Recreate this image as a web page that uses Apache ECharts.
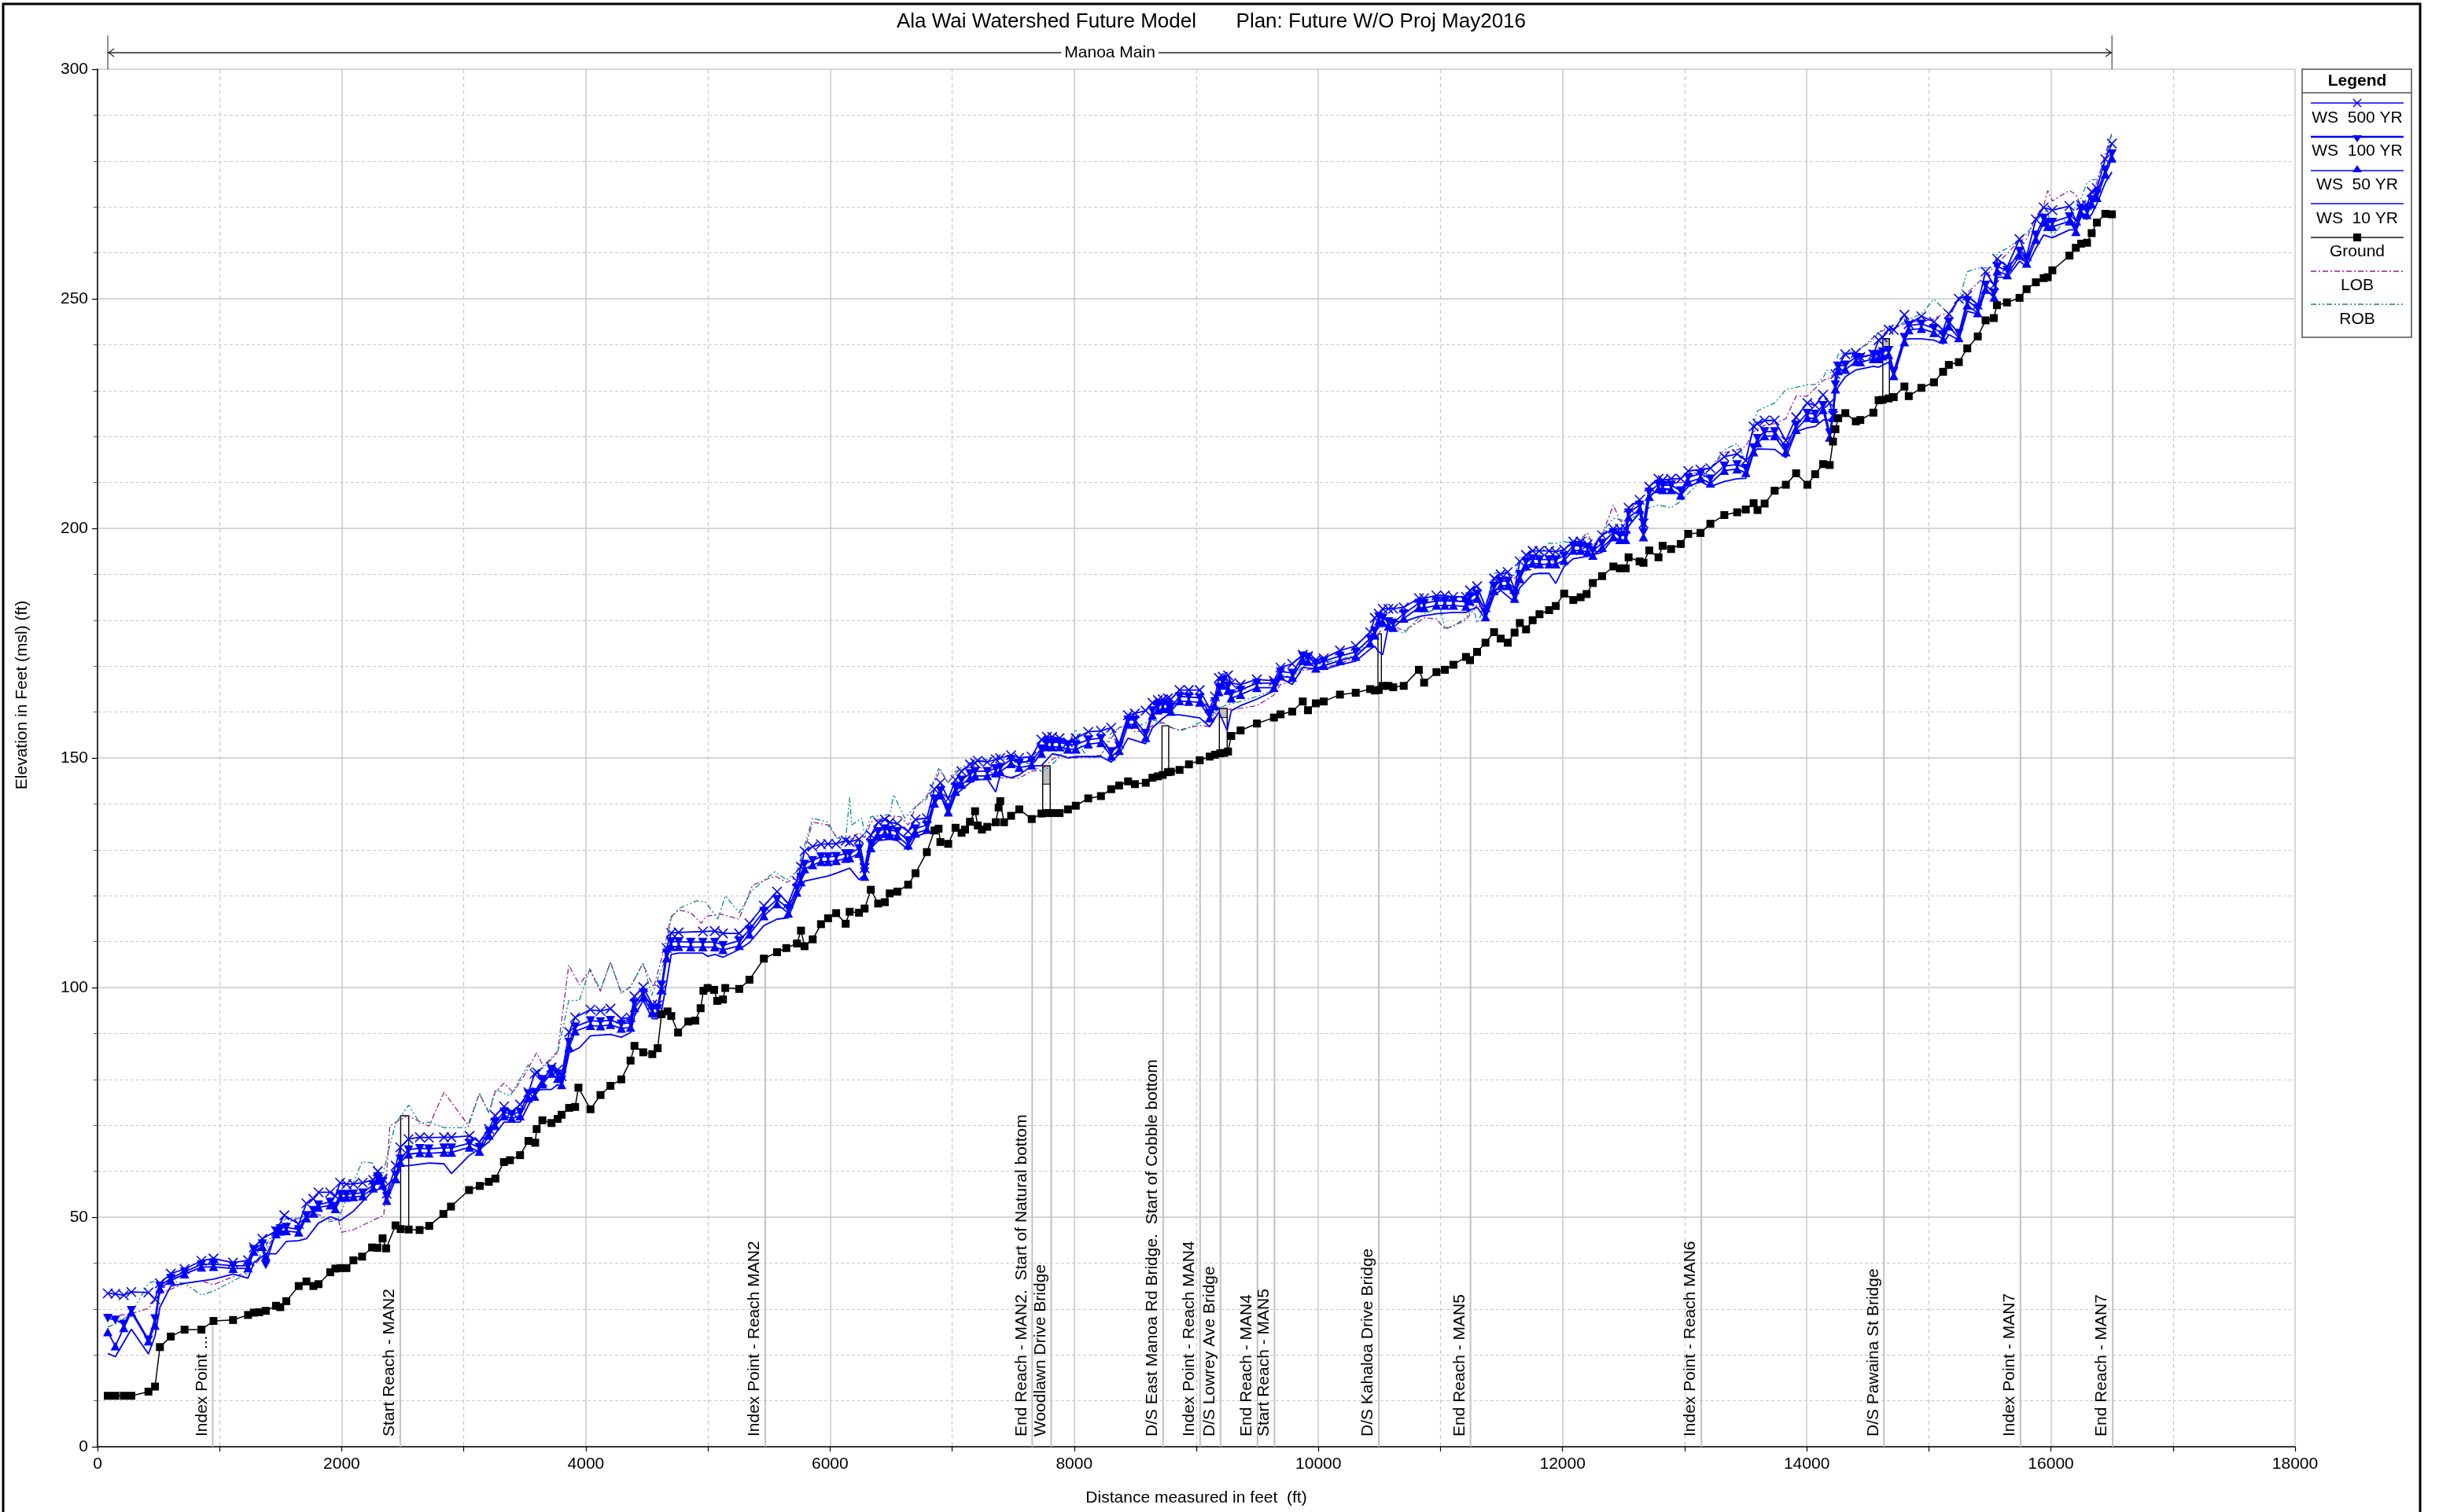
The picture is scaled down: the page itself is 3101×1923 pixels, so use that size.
<!DOCTYPE html>
<html>
<head>
<meta charset="utf-8">
<title>Ala Wai Watershed Future Model - Manoa Main profile</title>
<script src="https://cdn.jsdelivr.net/npm/echarts@6/dist/echarts.min.js"></script>
<style>
  html, body { margin: 0; padding: 0; background: #ffffff; }
  #chart { width: 3101px; height: 1923px; }
</style>
</head>
<body>
<div id="chart"></div>
<script>
// ---------------------------------------------------------------
// Profile data: [distance (ft), elevation (ft msl)]
// ---------------------------------------------------------------
const ground = [[84,11.1],[146,11.1],[215,11.1],[277,11.1],[417,12.0],[471,13.1],[511,21.7],[600,24.0],[713,25.5],[851,25.5],
[950,27.4],[1110,27.6],[1233,28.7],[1280,29.2],[1324,29.3],[1378,29.6],[1462,30.7],[1497,30.4],[1546,31.7],[1648,35.0],
[1711,36.0],[1768,35.0],[1810,35.4],[1906,38.0],[1948,38.8],[1990,38.9],[2039,38.9],[2096,40.6],[2167,41.4],[2249,43.4],
[2293,43.3],[2335,45.4],[2364,43.2],[2441,48.2],[2483,47.4],[2549,47.3],[2638,47.2],[2717,48.1],[2833,50.7],[2895,52.3],
[3043,55.9],[3131,56.8],[3205,57.7],[3259,58.4],[3329,62.0],[3378,62.4],[3461,63.5],[3530,66.6],[3585,66.2],[3597,69.2],
[3644,71.1],[3718,70.5],[3769,71.4],[3801,72.3],[3863,73.8],[3912,74.0],[3939,78.2],[4038,73.5],[4120,76.6],[4201,78.6],
[4290,80.0],[4366,84.1],[4398,87.3],[4470,85.9],[4544,85.5],[4588,86.8],[4620,94.2],[4669,94.8],[4699,93.8],[4755,90.2],
[4839,92.6],[4896,92.8],[4940,95.5],[4963,99.3],[4997,99.9],[5051,99.5],[5076,97.1],[5123,97.4],[5142,99.9],[5256,99.7],
[5340,101.7],[5458,106.3],[5566,107.7],[5642,108.6],[5729,109.6],[5762,112.4],[5791,109.0],[5858,110.5],[5926,113.8],[5984,115.1],
[6050,116.2],[6128,113.9],[6161,116.5],[6237,116.3],[6283,117.2],[6334,121.3],[6394,118.3],[6449,118.6],[6489,120.5],[6552,120.9],
[6640,122.4],[6700,124.9],[6793,129.5],[6855,134.2],[6889,134.6],[6904,131.7],[6968,131.3],[7028,134.8],[7077,133.7],[7106,134.4],
[7146,136.1],[7188,138.4],[7210,135.3],[7244,134.4],[7288,135.0],[7357,136.0],[7381,139.2],[7394,140.6],[7425,136.0],[7483,137.4],
[7550,138.8],[7652,136.7],[7732,137.9],[7776,138.0],[7820,138.0],[7880,138.0],[7949,138.8],[8013,139.6],[8115,141.2],[8219,141.7],
[8303,143.2],[8368,144.0],[8441,144.9],[8497,144.3],[8586,144.6],[8641,145.7],[8685,146.0],[8725,146.3],[8768,146.9],[8792,147.0],
[8863,147.4],[8940,148.6],[9028,149.5],[9110,150.3],[9153,150.7],[9196,151.0],[9228,151.1],[9260,151.4],[9286,154.8],[9363,156.0],
[9496,157.5],[9636,158.8],[9690,159.5],[9786,160.1],[9872,162.3],[9915,160.4],[9979,161.9],[10044,162.3],[10177,163.8],[10306,164.2],
[10424,165.0],[10462,164.7],[10495,164.8],[10527,165.7],[10574,165.7],[10613,165.4],[10699,165.7],[10823,169.2],[10866,166.4],[10967,168.7],
[11036,169.2],[11106,170.3],[11209,172.0],[11242,171.3],[11300,173.1],[11369,175.1],[11439,177.4],[11493,176.0],[11551,175.1],[11607,177.3],
[11650,179.4],[11701,178.0],[11755,180.0],[11811,181.3],[11890,182.2],[11944,183.1],[12013,185.8],[12088,184.4],[12148,185.0],[12197,185.7],
[12248,188.1],[12324,189.6],[12416,191.7],[12470,191.3],[12517,191.3],[12541,193.7],[12631,192.8],[12663,192.5],[12710,195.2],[12786,193.7],
[12820,196.2],[12889,195.5],[12968,196.6],[13029,198.8],[13130,199.0],[13211,201.0],[13325,202.9],[13430,203.5],[13501,204.1],[13565,205.5],
[13597,204.0],[13655,205.4],[13737,208.2],[13829,209.5],[13913,212.0],[14005,209.5],[14069,211.8],[14134,214.0],[14188,213.8],[14215,218.9],
[14235,221.6],[14258,224.0],[14316,225.1],[14402,223.3],[14439,223.6],[14546,225.2],[14589,227.9],[14621,228.0],[14671,228.3],[14713,228.6],
[14800,230.9],[14836,228.8],[14939,230.6],[15042,231.8],[15117,234.1],[15164,235.6],[15246,236.2],[15315,239.2],[15401,241.8],[15465,245.3],
[15532,245.8],[15558,248.6],[15640,249.2],[15743,250.2],[15801,252.1],[15877,253.6],[15941,254.5],[15974,254.7],[16012,256.2],[16152,259.4],
[16204,261.1],[16248,262.0],[16296,262.2],[16334,264.3],[16377,266.6],[16446,268.5],[16500,268.4]];

const ws500 = [[84,33.4],[146,33.3],[215,33.0],[277,33.7],[417,33.6],[471,32.1],[511,35.6],[600,37.7],[713,38.7],[851,40.5],
[950,41.0],[1110,40.1],[1233,40.6],[1280,43.4],[1350,45.3],[1462,47.0],[1530,50.4],[1648,48.5],[1711,53.0],[1768,54.0],
[1810,55.4],[1906,55.4],[1948,54.6],[1987,57.5],[2039,57.2],[2096,57.2],[2172,57.5],[2258,58.1],[2295,60.0],[2335,58.4],
[2369,55.1],[2443,61.2],[2480,65.2],[2547,67.0],[2640,67.4],[2714,67.3],[2838,67.4],[2899,67.4],[3047,67.7],[3128,66.4],
[3207,69.2],[3257,72.1],[3330,74.1],[3392,72.9],[3461,74.5],[3530,77.2],[3580,81.2],[3602,81.5],[3644,79.5],[3718,82.6],
[3769,82.1],[3801,80.7],[3863,90.3],[3912,93.5],[4038,95.2],[4120,94.9],[4201,95.4],[4290,93.2],[4366,93.5],[4398,98.1],
[4470,100.1],[4544,96.3],[4588,96.2],[4620,99.5],[4662,108.6],[4699,111.9],[4760,112.0],[4958,112.2],[5056,112.3],[5123,111.8],
[5256,111.8],[5340,114.0],[5458,117.8],[5566,120.9],[5658,118.3],[5728,123.2],[5762,126.3],[5791,129.7],[5857,130.7],[5926,131.2],
[5984,131.3],[6050,131.3],[6128,132.0],[6161,131.7],[6237,132.3],[6283,126.0],[6334,133.2],[6394,136.0],[6449,136.6],[6489,136.0],
[6551,135.7],[6640,134.0],[6700,136.6],[6793,136.9],[6855,143.2],[6904,144.6],[6968,141.1],[7028,145.2],[7077,147.1],[7146,148.6],
[7188,148.9],[7210,149.4],[7288,149.1],[7357,149.7],[7394,150.0],[7483,150.6],[7549,150.0],[7651,150.3],[7731,154.0],[7776,154.6],
[7820,154.6],[7880,154.3],[7949,153.4],[8013,154.3],[8115,155.7],[8219,155.9],[8303,156.6],[8368,153.1],[8441,159.3],[8497,159.7],
[8585,160.3],[8641,162.0],[8685,162.6],[8725,162.8],[8767,163.0],[8792,162.8],[8863,164.8],[8938,164.8],[9028,164.8],[9110,160.8],
[9153,163.4],[9185,167.4],[9217,167.7],[9260,168.0],[9286,166.3],[9363,166.0],[9496,167.1],[9636,166.8],[9690,169.7],[9786,170.5],
[9872,172.5],[9915,172.2],[9979,171.4],[10044,171.7],[10177,173.4],[10306,174.4],[10424,177.4],[10462,180.5],[10495,181.4],[10527,182.5],
[10574,182.5],[10613,182.5],[10699,182.8],[10823,184.8],[10866,184.8],[10967,185.4],[11036,185.4],[11106,185.1],[11209,185.1],[11242,186.5],
[11300,187.4],[11369,182.8],[11439,189.1],[11493,190.0],[11551,190.5],[11607,186.8],[11650,192.8],[11701,194.2],[11755,195.1],[11811,195.1],
[11890,195.1],[11944,194.9],[12013,195.4],[12088,197.1],[12148,197.1],[12205,196.5],[12248,195.7],[12324,198.5],[12416,199.9],[12470,199.9],
[12517,199.9],[12541,204.5],[12631,206.2],[12663,201.1],[12710,209.1],[12786,210.8],[12820,210.5],[12889,210.8],[12968,210.8],[13029,212.5],
[13130,212.8],[13211,213.1],[13325,215.6],[13430,216.2],[13501,214.8],[13565,222.2],[13597,222.8],[13655,223.5],[13737,223.5],[13829,219.1],
[13913,224.2],[14005,227.3],[14069,226.8],[14134,229.1],[14188,227.3],[14215,224.5],[14235,233.6],[14258,235.3],[14316,237.9],[14402,238.2],
[14439,237.3],[14546,237.9],[14589,241.0],[14621,241.6],[14671,243.3],[14713,243.2],[14800,246.5],[14836,244.5],[14939,246.2],[15042,245.0],
[15117,243.2],[15164,246.7],[15246,250.0],[15315,250.7],[15400,248.7],[15465,255.9],[15535,253.0],[15561,258.7],[15643,257.0],[15743,263.0],
[15801,259.3],[15877,267.3],[15941,269.9],[16012,269.3],[16152,270.2],[16205,267.0],[16248,270.4],[16295,270.4],[16334,273.3],[16377,274.1],
[16446,280.4],[16500,283.8]];

const ws100 = [[84,28.0],[146,27.6],[215,26.7],[277,29.7],[417,23.3],[471,27.9],[511,35.0],[600,36.7],[713,38.1],[851,39.7],
[950,39.8],[1110,39.4],[1233,39.4],[1280,43.0],[1350,44.2],[1378,39.6],[1462,47.0],[1497,47.5],[1546,47.8],[1648,47.3],
[1711,50.4],[1768,51.5],[1810,52.7],[1906,53.3],[1948,52.4],[1990,55.0],[2039,55.0],[2096,55.1],[2172,55.3],[2258,57.0],
[2295,58.8],[2335,57.8],[2369,54.5],[2443,59.2],[2480,62.7],[2547,64.7],[2640,65.0],[2714,64.9],[2838,65.1],[2899,65.1],
[3047,66.1],[3128,65.2],[3207,68.7],[3257,70.7],[3330,72.9],[3392,72.4],[3461,72.9],[3530,76.9],[3580,77.2],[3644,80.0],
[3718,82.2],[3769,81.2],[3801,79.8],[3863,88.1],[3912,91.5],[4038,92.8],[4120,92.6],[4201,92.9],[4290,92.1],[4366,92.3],
[4398,96.6],[4470,98.9],[4544,95.5],[4588,95.4],[4620,100.6],[4662,107.5],[4699,110.0],[4760,110.0],[4859,109.9],[4958,109.9],
[5056,109.9],[5123,109.2],[5256,110.2],[5340,112.6],[5458,116.6],[5566,119.2],[5658,117.2],[5728,121.7],[5762,124.0],[5791,126.9],
[5857,127.7],[5926,128.5],[5984,128.5],[6050,128.6],[6128,129.2],[6161,129.2],[6237,130.3],[6283,125.2],[6334,131.4],[6394,134.0],
[6449,134.6],[6489,134.3],[6551,134.0],[6640,132.0],[6700,134.6],[6793,135.4],[6855,141.1],[6904,142.9],[6968,139.2],[7028,143.7],
[7077,145.2],[7146,146.6],[7188,147.1],[7288,147.1],[7357,147.7],[7394,148.0],[7483,149.7],[7549,148.9],[7651,149.4],[7731,152.0],
[7776,153.4],[7820,153.4],[7880,153.4],[7949,152.9],[8013,152.9],[8115,154.0],[8219,154.3],[8303,151.4],[8368,152.6],[8441,158.3],
[8497,158.3],[8585,155.4],[8641,160.3],[8685,161.4],[8725,161.7],[8767,161.7],[8792,161.1],[8863,163.4],[8938,163.3],[9028,163.1],
[9110,159.7],[9153,162.3],[9185,165.4],[9217,166.8],[9260,165.7],[9286,164.0],[9363,164.8],[9496,166.3],[9636,166.3],[9690,168.8],
[9786,168.5],[9872,172.2],[9915,172.0],[9979,170.5],[10044,171.1],[10177,172.2],[10306,173.1],[10424,176.0],[10462,177.7],[10495,180.8],
[10527,180.5],[10574,179.7],[10613,179.4],[10699,181.4],[10823,183.7],[10866,183.7],[10967,184.2],[11036,184.2],[11106,184.2],[11209,184.0],
[11242,185.1],[11300,185.7],[11369,181.7],[11439,187.4],[11493,188.5],[11551,188.5],[11607,185.7],[11650,190.0],[11701,192.8],[11755,193.4],
[11811,193.2],[11890,193.2],[11944,193.2],[12013,194.0],[12088,196.2],[12148,196.2],[12205,195.9],[12248,195.1],[12324,196.8],[12416,199.1],
[12470,198.5],[12517,198.5],[12541,203.4],[12631,205.1],[12663,199.1],[12710,207.9],[12786,209.6],[12820,209.4],[12889,209.4],[12968,208.2],
[13029,211.1],[13130,211.9],[13211,210.8],[13325,213.6],[13430,213.9],[13501,213.1],[13565,217.6],[13597,219.6],[13655,221.1],[13737,221.1],
[13829,217.6],[13913,222.5],[14005,225.1],[14069,224.9],[14134,226.8],[14188,220.8],[14215,225.1],[14235,231.3],[14258,235.3],[14316,235.6],
[14402,237.3],[14439,237.2],[14546,237.9],[14589,237.9],[14621,238.5],[14671,238.8],[14713,234.2],[14800,241.6],[14836,244.2],[14939,244.5],
[15042,243.6],[15117,242.2],[15164,245.0],[15246,242.5],[15315,249.6],[15400,247.9],[15465,253.0],[15535,251.3],[15561,257.0],[15643,256.2],
[15743,260.4],[15801,258.7],[15877,263.9],[15941,267.6],[15974,266.7],[16012,266.7],[16152,267.9],[16205,265.6],[16248,269.6],[16295,269.3],
[16334,271.6],[16377,273.0],[16446,278.1],[16500,281.6]];

const ws50 = [[84,25.0],[146,21.9],[215,25.9],[277,29.3],[417,23.0],[471,26.4],[511,34.4],[600,36.2],[713,37.6],[851,39.1],
[950,39.2],[1110,38.8],[1233,38.9],[1280,42.5],[1350,43.6],[1378,41.5],[1462,46.3],[1497,46.9],[1546,47.0],[1648,46.7],
[1711,49.8],[1768,50.8],[1810,52.1],[1906,52.6],[1948,51.8],[1990,54.3],[2039,54.3],[2096,54.4],[2172,54.6],[2258,56.3],
[2295,58.0],[2335,57.0],[2369,53.6],[2443,58.3],[2480,61.9],[2547,63.7],[2640,64.0],[2714,63.9],[2838,64.1],[2899,64.1],
[3047,65.2],[3128,64.3],[3207,67.8],[3257,69.9],[3330,72.0],[3392,71.5],[3461,72.0],[3530,75.9],[3580,76.3],[3644,79.0],
[3718,81.3],[3769,80.2],[3801,78.8],[3863,87.0],[3912,90.5],[4038,91.7],[4120,91.6],[4201,91.9],[4290,91.1],[4366,91.3],
[4398,95.6],[4470,97.9],[4544,94.5],[4588,94.4],[4620,99.5],[4662,106.4],[4699,108.9],[4760,108.9],[4859,108.8],[4958,108.8],
[5056,108.8],[5123,108.2],[5256,109.1],[5340,111.6],[5458,115.6],[5566,118.2],[5658,116.2],[5728,120.7],[5762,123.0],[5791,125.8],
[5857,126.7],[5926,127.4],[5984,127.4],[6050,127.6],[6128,128.1],[6161,128.2],[6237,129.2],[6283,124.2],[6334,130.4],[6394,133.0],
[6449,133.5],[6489,133.3],[6551,133.0],[6640,131.0],[6700,133.6],[6793,134.4],[6855,140.1],[6904,141.9],[6968,138.2],[7028,142.7],
[7077,144.2],[7146,145.6],[7188,146.1],[7288,146.1],[7357,146.7],[7394,147.0],[7483,148.7],[7549,147.9],[7651,148.4],[7731,151.0],
[7776,152.4],[7820,152.4],[7880,152.4],[7949,151.9],[8013,151.9],[8115,153.0],[8219,153.3],[8303,150.4],[8368,151.6],[8441,157.3],
[8497,157.3],[8585,154.4],[8641,159.3],[8685,160.4],[8725,160.7],[8767,160.7],[8792,160.1],[8863,162.4],[8938,162.3],[9028,162.1],
[9110,158.7],[9153,161.3],[9185,164.4],[9217,165.8],[9260,164.7],[9286,163.0],[9363,163.8],[9496,165.3],[9636,165.3],[9690,167.8],
[9786,167.5],[9872,171.2],[9915,171.0],[9979,169.5],[10044,170.1],[10177,171.2],[10306,172.1],[10424,175.0],[10462,176.7],[10495,179.8],
[10527,179.5],[10574,178.7],[10613,178.4],[10699,180.4],[10823,182.7],[10866,182.7],[10967,183.2],[11036,183.2],[11106,183.2],[11209,183.0],
[11242,184.1],[11300,184.7],[11369,180.7],[11439,186.4],[11493,187.5],[11551,187.5],[11607,184.7],[11650,189.0],[11701,191.8],[11755,192.4],
[11811,192.2],[11890,192.2],[11944,192.2],[12013,193.0],[12088,195.2],[12148,195.2],[12205,194.9],[12248,194.1],[12324,195.8],[12416,198.1],
[12470,197.5],[12517,197.5],[12541,202.4],[12631,204.1],[12663,198.1],[12710,206.9],[12786,208.6],[12820,208.4],[12889,208.4],[12968,207.2],
[13029,210.1],[13130,210.9],[13211,209.8],[13325,212.6],[13430,212.9],[13501,212.1],[13565,216.6],[13597,218.6],[13655,220.1],[13737,220.1],
[13829,216.6],[13913,221.5],[14005,224.1],[14069,223.9],[14134,225.8],[14188,219.8],[14215,224.1],[14235,230.3],[14258,234.3],[14316,234.6],
[14402,236.3],[14439,236.2],[14546,236.9],[14589,236.9],[14621,237.5],[14671,237.8],[14713,233.2],[14800,240.6],[14836,243.2],[14939,243.5],
[15042,242.6],[15117,241.2],[15164,244.0],[15246,241.5],[15315,248.6],[15400,246.9],[15465,252.0],[15535,250.3],[15561,256.0],[15643,255.2],
[15743,259.4],[15801,257.7],[15877,262.9],[15941,266.6],[15974,265.7],[16012,265.7],[16152,266.9],[16205,264.6],[16248,268.6],[16295,268.3],
[16334,270.6],[16377,272.0],[16446,277.1],[16500,280.6]];

const ws10 = [[84,20.3],[146,19.6],[277,25.6],[417,20.2],[471,24.1],[511,30.4],[600,35.0],[713,35.6],[851,36.1],[950,36.5],
[1110,37.6],[1233,36.7],[1280,40.1],[1378,42.0],[1462,42.0],[1546,44.7],[1648,44.9],[1711,45.3],[1810,48.7],[1906,50.1],
[1990,49.3],[2096,51.3],[2258,55.8],[2345,56.3],[2443,58.7],[2480,61.2],[2542,61.2],[2717,61.8],[2838,61.6],[2899,59.5],
[3047,63.5],[3128,64.8],[3207,66.4],[3330,70.7],[3461,70.7],[3530,74.4],[3602,77.5],[3644,77.8],[3718,77.8],[3769,78.9],
[3801,78.0],[3863,85.8],[3947,86.9],[4038,89.5],[4201,89.8],[4290,89.2],[4366,90.2],[4398,93.8],[4470,97.2],[4544,93.2],
[4588,93.2],[4620,94.9],[4662,101.2],[4699,107.2],[4760,107.5],[4958,107.5],[4997,106.8],[5056,107.2],[5123,106.6],[5256,108.3],
[5340,109.8],[5458,113.5],[5566,114.9],[5658,115.2],[5728,120.0],[5791,123.2],[5984,124.3],[6050,124.9],[6161,126.0],[6237,123.5],
[6283,124.6],[6334,130.3],[6394,132.0],[6489,132.3],[6551,132.0],[6640,130.0],[6700,132.9],[6793,133.7],[6855,140.0],[6904,142.0],
[6968,137.7],[7028,142.0],[7146,144.6],[7188,145.2],[7288,145.4],[7357,142.6],[7394,146.3],[7483,145.7],[7549,146.3],[7651,148.3],
[7731,148.3],[7820,150.9],[7880,150.6],[7949,150.0],[8013,150.3],[8115,150.3],[8219,150.3],[8303,149.1],[8368,150.9],[8441,154.3],
[8585,153.1],[8641,156.6],[8725,158.6],[8767,159.4],[8863,159.4],[9028,158.7],[9110,156.8],[9185,160.0],[9253,156.0],[9286,160.3],
[9363,161.4],[9496,162.8],[9636,164.6],[9690,167.4],[9786,166.0],[9872,169.7],[9979,169.4],[10044,169.3],[10177,170.3],[10306,171.1],
[10424,173.7],[10462,174.3],[10495,173.1],[10527,172.5],[10574,178.8],[10613,179.7],[10699,179.7],[10823,180.8],[10967,181.4],[11106,181.7],
[11209,181.7],[11242,182.2],[11300,182.8],[11369,180.3],[11439,185.4],[11493,186.5],[11607,184.0],[11650,187.1],[11755,190.0],[11811,190.2],
[11890,190.2],[11944,188.0],[12013,191.7],[12088,193.4],[12205,193.9],[12324,194.8],[12416,197.9],[12517,196.8],[12541,200.5],[12631,203.4],
[12663,200.5],[12710,206.8],[12786,208.8],[12889,208.5],[12968,207.1],[13029,209.1],[13130,210.2],[13211,209.1],[13325,210.2],[13430,210.8],
[13501,210.9],[13565,216.5],[13597,217.3],[13737,217.2],[13829,215.4],[13913,221.1],[14005,221.9],[14069,222.2],[14134,223.6],[14212,223.6],
[14235,229.6],[14258,230.8],[14316,233.0],[14402,234.5],[14546,235.3],[14589,235.1],[14671,236.2],[14713,233.0],[14800,241.0],[14836,241.3],
[14939,241.3],[15042,241.0],[15117,240.2],[15164,242.2],[15246,241.0],[15315,247.3],[15400,246.7],[15465,251.9],[15535,250.7],[15561,254.7],
[15643,254.7],[15743,258.2],[15801,257.0],[15877,261.0],[15941,263.9],[16012,263.3],[16152,265.0],[16205,265.0],[16248,267.9],[16295,267.3],
[16334,268.4],[16377,270.7],[16446,275.3],[16500,277.6]];

const lob = [[84,28.2],[277,29.0],[417,30.1],[511,33.3],[713,35.6],[851,36.1],[950,35.3],[1110,37.0],[1233,38.1],[1324,40.7],
[1462,46.4],[1546,48.7],[1648,49.8],[1768,51.0],[1906,49.5],[1975,49.3],[1999,46.7],[2098,47.3],[2271,49.5],[2345,50.4],
[2394,69.8],[2443,70.7],[2542,72.1],[2714,69.8],[2838,77.2],[3035,70.1],[3128,76.9],[3207,72.7],[3257,77.2],[3330,79.2],
[3404,77.2],[3503,81.2],[3597,85.8],[3651,82.9],[3769,86.1],[3860,104.9],[3947,100.6],[4033,103.8],[4119,99.2],[4201,105.5],
[4292,98.9],[4366,100.1],[4465,105.2],[4556,100.1],[4637,108.0],[4699,115.5],[4760,116.9],[4859,116.3],[4945,114.0],[4982,115.5],
[5106,116.0],[5254,114.9],[5365,122.3],[5476,123.5],[5550,124.3],[5644,122.9],[5728,124.0],[5857,136.0],[5984,135.4],[6050,132.9],
[6161,132.3],[6237,133.7],[6283,132.6],[6334,136.0],[6489,137.4],[6578,137.2],[6640,135.4],[6700,139.2],[6793,141.7],[6904,147.4],
[6968,144.6],[7028,147.1],[7188,148.3],[7288,147.4],[7394,145.7],[7483,145.6],[7549,145.6],[7651,147.1],[7731,147.4],[7820,149.7],
[7880,150.6],[7949,150.2],[8013,150.0],[8115,150.3],[8219,150.6],[8303,154.3],[8368,156.6],[8441,157.1],[8497,155.7],[8585,155.9],
[8641,157.1],[8725,157.7],[8792,156.6],[8863,156.1],[8940,156.6],[9028,157.1],[9110,156.8],[9185,161.1],[9260,160.6],[9363,160.8],
[9496,161.4],[9636,163.7],[9690,166.0],[9786,166.8],[9872,169.1],[9979,169.4],[10177,170.5],[10306,172.0],[10424,175.4],[10495,177.1],
[10527,178.5],[10613,178.8],[10699,177.7],[10823,179.7],[10866,180.5],[10967,180.3],[11036,178.0],[11106,178.8],[11209,180.0],[11300,183.4],
[11369,181.7],[11439,188.0],[11493,189.7],[11607,189.1],[11650,190.5],[11755,191.1],[11890,192.5],[11944,193.0],[12013,195.4],[12088,197.1],
[12158,197.9],[12205,199.1],[12248,196.2],[12324,198.5],[12416,205.1],[12470,201.7],[12517,201.1],[12541,203.6],[12631,206.2],[12710,208.2],
[12786,209.4],[12889,210.8],[12968,209.9],[13029,210.8],[13130,213.1],[13211,213.1],[13325,216.5],[13430,217.1],[13501,217.9],[13565,221.1],
[13655,222.5],[13737,222.8],[13829,223.9],[13913,228.8],[14005,228.8],[14069,230.5],[14134,232.2],[14188,232.8],[14235,233.9],[14258,236.5],
[14316,238.2],[14402,238.2],[14546,241.6],[14589,242.8],[14671,243.3],[14713,243.6],[14800,244.5],[14836,245.0],[14939,245.0],[15042,245.6],
[15117,246.7],[15175,246.2],[15246,250.2],[15315,251.3],[15465,255.0],[15561,257.6],[15643,259.9],[15743,262.7],[15801,263.0],[15877,267.9],
[15941,270.2],[15974,273.6],[16012,271.3],[16152,273.6],[16205,272.7],[16248,270.2],[16295,270.7],[16334,273.0],[16377,275.3],[16446,281.6],
[16500,286.1]];

const rob = [[84,26.1],[146,26.7],[277,29.0],[417,35.6],[471,36.1],[511,35.6],[600,36.1],[713,35.6],[851,33.0],[950,33.9],
[1110,36.1],[1233,37.8],[1324,41.3],[1462,47.5],[1546,49.8],[1648,49.8],[1768,50.7],[1906,49.0],[1968,49.5],[2039,53.8],
[2167,62.1],[2249,61.8],[2293,60.1],[2335,59.0],[2364,62.4],[2441,70.4],[2549,74.4],[2641,70.4],[2714,70.7],[2838,69.5],
[3035,69.5],[3128,76.9],[3207,72.7],[3257,77.8],[3380,76.4],[3528,83.2],[3602,81.2],[3769,85.8],[3860,97.2],[3947,97.2],
[4033,104.1],[4119,99.5],[4201,105.5],[4292,98.6],[4366,100.3],[4470,105.2],[4539,98.3],[4637,105.2],[4699,115.2],[4760,117.2],
[4908,118.9],[4982,118.6],[5081,114.9],[5143,120.0],[5254,116.3],[5365,121.2],[5476,123.7],[5550,125.2],[5644,123.5],[5728,125.2],
[5857,136.9],[5984,136.0],[6050,132.6],[6128,132.3],[6161,141.4],[6177,135.4],[6261,136.9],[6283,133.2],[6334,137.2],[6489,137.7],
[6522,142.0],[6611,136.9],[6700,139.4],[6793,141.1],[6889,147.7],[6968,144.6],[7077,148.0],[7146,148.9],[7288,149.7],[7357,150.6],
[7394,149.7],[7483,149.8],[7651,148.6],[7731,147.1],[7798,148.0],[7880,150.3],[7949,153.1],[8013,156.3],[8064,151.9],[8115,150.0],
[8219,150.3],[8303,155.4],[8368,156.6],[8441,157.1],[8497,156.6],[8641,158.3],[8725,157.7],[8767,157.1],[8863,155.9],[8940,156.6],
[9028,157.7],[9110,158.6],[9185,160.8],[9260,161.7],[9363,162.3],[9496,163.4],[9636,164.8],[9690,168.3],[9786,167.4],[9872,170.0],
[9979,170.5],[10177,171.4],[10306,172.5],[10424,176.0],[10495,178.3],[10527,178.8],[10574,179.1],[10699,177.1],[10823,180.5],[10866,181.4],
[10967,182.5],[10995,182.8],[11036,178.3],[11106,178.8],[11209,180.5],[11267,183.1],[11300,179.4],[11369,183.1],[11439,190.2],[11493,190.5],
[11607,189.7],[11650,193.7],[11755,192.5],[11890,196.8],[11944,196.7],[12013,197.1],[12088,196.8],[12205,198.2],[12248,195.7],[12324,199.1],
[12416,202.2],[12517,201.7],[12631,203.1],[12710,204.5],[12786,205.1],[12889,204.5],[12968,205.9],[13029,207.6],[13130,210.2],[13211,213.1],
[13325,217.1],[13430,218.5],[13501,214.8],[13565,222.8],[13597,225.6],[13737,227.3],[13829,230.2],[14005,231.3],[14069,231.3],[14134,232.8],
[14166,234.5],[14215,233.6],[14258,237.9],[14316,238.2],[14402,238.5],[14546,241.0],[14589,242.8],[14671,243.9],[14713,243.3],[14800,245.0],
[14939,246.7],[15042,249.9],[15117,247.9],[15164,246.7],[15246,249.6],[15315,255.9],[15400,256.7],[15465,256.7],[15535,257.0],[15561,259.9],
[15643,261.0],[15743,263.0],[15801,264.2],[15877,266.7],[15941,269.0],[15974,269.0],[16012,263.6],[16152,268.4],[16205,270.2],[16248,271.9],
[16295,275.3],[16334,275.9],[16377,276.0],[16446,280.4],[16500,286.1]];

// Bridge openings: upstream/downstream face stations, ground, deck bottom (0 = none), top of road
const bridgeStart   = [2483, 7742, 8719, 9189, 10488, 14623];
const bridgeEnd     = [2549, 7803, 8774, 9253, 10516, 14677];
const bridgeLow     = [47.4, 138.0, 146.3, 151.0, 164.8, 228.0];
const bridgeDeckLow = [0, 144.3, 0, 158.8, 0, 239.6];
const bridgeTop     = [72.1, 148.3, 157.0, 160.8, 177.0, 241.3];

// Reach / structure labels along the channel
const labelStation = [943, 2480, 5470, 7656, 7811, 8728, 9031, 9198, 9501, 9641, 10495, 11246, 13137, 14632, 15751, 16506];
const labelGround  = [26.5, 47.5, 106.5, 136.8, 138.0, 146.3, 149.5, 151.0, 157.5, 158.8, 164.8, 171.3, 199.0, 228.0, 250.2, 268.4];
const labelText = [
  'Index Point ...',
  'Start Reach - MAN2',
  'Index Point - Reach MAN2',
  'End Reach - MAN2.  Start of Natural bottom',
  'Woodlawn Drive Bridge',
  'D/S East Manoa Rd Bridge.  Start of Cobble bottom',
  'Index Point - Reach MAN4',
  'D/S Lowrey Ave Bridge',
  'End Reach - MAN4',
  'Start Reach - MAN5',
  'D/S Kahaloa Drive Bridge',
  'End Reach - MAN5',
  'Index Point - Reach MAN6',
  'D/S Pawaina St Bridge',
  'Index Point - MAN7',
  'End Reach - MAN7'
];

const reachName = 'Manoa Main';
const reachExtent = [84, 16500];

const titleText = 'Ala Wai Watershed Future Model       Plan: Future W/O Proj May2016';
const xAxisTitle = 'Distance measured in feet  (ft)';
const yAxisTitle = 'Elevation in Feet (msl) (ft)';
const legendNames = ['WS  500 YR', 'WS  100 YR', 'WS  50 YR', 'WS  10 YR', 'Ground', 'LOB', 'ROB'];

// ---------------------------------------------------------------
// Styling
// ---------------------------------------------------------------
const FONT = '"Liberation Sans", Arial, Helvetica, sans-serif';
const BLUE = '#0000ff';
const LOB_COLOR = '#9a1a9a';
const ROB_COLOR = '#008b8b';
const GRID_COLOR = '#c8c8c8';
const SYM_X = 'path://M0,0L10,10M10,0L0,10';
const SYM_DOWN = 'path://M0,0L10,0L5,9Z';
const SYM_UP = 'path://M5,0L10,9L0,9Z';

const GRID = { left: 124, top: 88, width: 2794, height: 1752 };

const chart = echarts.init(document.getElementById('chart'), null, { renderer: 'canvas', width: 3101, height: 1923 });

function profileLine(name, data, color, width, extra) {
  return Object.assign({
    name: name,
    type: 'line',
    data: data,
    symbol: 'none',
    showSymbol: true,
    animation: false,
    silent: true,
    lineStyle: { color: color, width: width },
    itemStyle: { color: color },
    z: 3
  }, extra || {});
}

const series = [
  // annotation stems and labels
  {
    type: 'custom',
    name: 'labels',
    coordinateSystem: 'cartesian2d',
    silent: true,
    animation: false,
    z: 1,
    encode: { x: 0, y: 1 },
    data: labelStation.map((s, i) => [s, labelGround[i]]),
    renderItem: function (params, api) {
      const base = api.coord([api.value(0), 0]);
      const top = api.coord([api.value(0), api.value(1)]);
      return {
        type: 'group',
        children: [
          { type: 'line', shape: { x1: base[0], y1: base[1], x2: top[0], y2: top[1] },
            style: { stroke: '#c2c2c2', lineWidth: 2 } },
          { type: 'text', x: base[0] - 3, y: base[1] - 13, rotation: Math.PI / 2,
            style: { text: labelText[params.dataIndex], fill: '#000', fontSize: 21, fontFamily: FONT,
                     align: 'left', verticalAlign: 'bottom', textAlign: 'left', textVerticalAlign: 'bottom' } }
        ]
      };
    }
  },
  // bridge outlines
  {
    type: 'custom',
    name: 'bridges',
    coordinateSystem: 'cartesian2d',
    silent: true,
    animation: false,
    z: 2,
    encode: { x: [0, 1], y: [2, 4] },
    data: bridgeStart.map((s, i) => [s, bridgeEnd[i], bridgeLow[i], bridgeDeckLow[i], bridgeTop[i]]),
    renderItem: function (params, api) {
      const lo = api.coord([api.value(0), api.value(2)]);
      const hi = api.coord([api.value(1), api.value(4)]);
      const children = [];
      if (api.value(3) > 0) {
        const deck = api.coord([api.value(1), api.value(3)]);
        children.push({ type: 'rect', shape: { x: lo[0], y: hi[1], width: hi[0] - lo[0], height: deck[1] - hi[1] },
                        style: { fill: '#c0c0c0' } });
        children.push({ type: 'line', shape: { x1: lo[0], y1: deck[1], x2: hi[0], y2: deck[1] },
                        style: { stroke: '#000', lineWidth: 1 } });
      }
      children.push({ type: 'polyline',
        shape: { points: [[lo[0], lo[1]], [lo[0], hi[1]], [hi[0], hi[1]], [hi[0], lo[1]]] },
        style: { stroke: '#000', lineWidth: 1.4, fill: null } });
      return { type: 'group', children: children };
    }
  },
  // reach bracket above the plot
  {
    type: 'custom',
    name: 'reach',
    coordinateSystem: 'cartesian2d',
    silent: true,
    animation: false,
    z: 5,
    encode: { x: [0, 1] },
    data: [[reachExtent[0], reachExtent[1]]],
    renderItem: function (params, api) {
      const a = api.coord([api.value(0), 300]);
      const b = api.coord([api.value(1), 300]);
      const y = a[1] - 21;
      const ln = { stroke: '#222', lineWidth: 1.6 };
      return {
        type: 'group',
        children: [
          { type: 'line', shape: { x1: a[0], y1: y, x2: b[0], y2: y }, style: ln },
          { type: 'line', shape: { x1: a[0], y1: y - 22, x2: a[0], y2: a[1] }, style: { stroke: '#222', lineWidth: 1 } },
          { type: 'line', shape: { x1: b[0], y1: y - 22, x2: b[0], y2: a[1] }, style: { stroke: '#222', lineWidth: 1 } },
          { type: 'polyline', shape: { points: [[a[0] + 8, y - 5], [a[0] + 1, y], [a[0] + 8, y + 5]] }, style: { stroke: '#222', lineWidth: 1.2, fill: null } },
          { type: 'polyline', shape: { points: [[b[0] - 8, y - 5], [b[0] - 1, y], [b[0] - 8, y + 5]] }, style: { stroke: '#222', lineWidth: 1.2, fill: null } },
          { type: 'text', x: (a[0] + b[0]) / 2, y: y,
            style: { text: reachName, fill: '#000', fontSize: 21, fontFamily: FONT, backgroundColor: '#fff', padding: [2, 4],
                     align: 'center', verticalAlign: 'middle', textAlign: 'center', textVerticalAlign: 'middle' } }
        ]
      };
    }
  },
  profileLine('LOB', lob, LOB_COLOR, 1.3, { lineStyle: { color: LOB_COLOR, width: 1.3, type: [7, 3, 2, 3] }, z: 2 }),
  profileLine('ROB', rob, ROB_COLOR, 1.3, { lineStyle: { color: ROB_COLOR, width: 1.3, type: [7, 3, 2, 3, 2, 3] }, z: 2 }),
  profileLine('WS  10 YR', ws10, BLUE, 1.8),
  profileLine('WS  50 YR', ws50, BLUE, 1.8, { symbol: SYM_UP, symbolSize: [12, 11] }),
  profileLine('WS  100 YR', ws100, BLUE, 1.8, { symbol: SYM_DOWN, symbolSize: [12, 11] }),
  profileLine('WS  500 YR', ws500, BLUE, 1.8, { symbol: SYM_X, symbolSize: 12,
    itemStyle: { color: 'none', borderColor: BLUE, borderWidth: 1.6 } }),
  profileLine('Ground', ground, '#000', 1.5, { symbol: 'rect', symbolSize: 10, z: 4 })
];

// ---------------------------------------------------------------
// Legend box, title and axis titles (page furniture)
// ---------------------------------------------------------------
const LG = { x: 2927, y: 88, w: 139, h: 341, cx: 2997, x1: 2938, x2: 3056 };
const legendLineY = [131, 174, 217, 259, 302, 345, 387];
const legendLabelY = [150, 192, 235, 278, 320, 363, 406];

function txt(text, x, y, size, extra) {
  return Object.assign({
    type: 'text', x: x, y: y, silent: true,
    style: Object.assign({ text: text, fill: '#000', fontSize: size, fontFamily: FONT,
      align: 'center', verticalAlign: 'middle', textAlign: 'center', textVerticalAlign: 'middle' }, (extra && extra.style) || {})
  }, extra ? { rotation: extra.rotation || 0 } : {});
}

const graphic = [
  // outer frame
  { type: 'rect', silent: true, shape: { x: 4, y: 5, width: 3073, height: 1960 }, style: { fill: null, stroke: '#000', lineWidth: 3 } },
  txt(titleText, 1540, 28, 26, { style: { whiteSpace: 'pre' } }),
  txt(xAxisTitle, 1521, 1905, 21),
  txt(yAxisTitle, 28, 884, 21, { rotation: Math.PI / 2 }),
  // legend frame
  { type: 'rect', silent: true, shape: { x: LG.x, y: LG.y, width: LG.w, height: LG.h }, style: { fill: '#fff', stroke: '#505050', lineWidth: 1.5 } },
  { type: 'line', silent: true, shape: { x1: LG.x, y1: 118, x2: LG.x + LG.w, y2: 118 }, style: { stroke: '#505050', lineWidth: 1.5 } },
  txt('Legend', LG.cx, 103, 21, { style: { fontWeight: 'bold' } })
];

const legendStroke = [
  { stroke: BLUE, lineWidth: 1.7 },
  { stroke: BLUE, lineWidth: 2.4 },
  { stroke: BLUE, lineWidth: 1.7 },
  { stroke: BLUE, lineWidth: 1.7 },
  { stroke: '#505050', lineWidth: 2 },
  { stroke: LOB_COLOR, lineWidth: 1.3, lineDash: [7, 3, 2, 3] },
  { stroke: ROB_COLOR, lineWidth: 1.3, lineDash: [7, 3, 2, 3, 2, 3] }
];
legendNames.forEach(function (name, i) {
  const y = legendLineY[i];
  graphic.push({ type: 'line', silent: true, shape: { x1: LG.x1, y1: y, x2: LG.x2, y2: y }, style: legendStroke[i] });
  if (i === 0) {
    graphic.push({ type: 'polyline', silent: true, shape: { points: [[LG.cx - 5, y - 5], [LG.cx + 5, y + 5]] }, style: { stroke: BLUE, lineWidth: 1.5 } });
    graphic.push({ type: 'polyline', silent: true, shape: { points: [[LG.cx + 5, y - 5], [LG.cx - 5, y + 5]] }, style: { stroke: BLUE, lineWidth: 1.5 } });
  } else if (i === 1) {
    graphic.push({ type: 'polygon', silent: true, shape: { points: [[LG.cx - 6, y - 2], [LG.cx + 6, y - 2], [LG.cx, y + 7]] }, style: { fill: BLUE } });
  } else if (i === 2) {
    graphic.push({ type: 'polygon', silent: true, shape: { points: [[LG.cx, y - 7], [LG.cx + 6, y + 2], [LG.cx - 6, y + 2]] }, style: { fill: BLUE } });
  } else if (i === 4) {
    graphic.push({ type: 'rect', silent: true, shape: { x: LG.cx - 5, y: y - 5, width: 10, height: 10 }, style: { fill: '#000' } });
  }
  graphic.push(txt(name, LG.cx, legendLabelY[i], 21, { style: { whiteSpace: 'pre' } }));
});

const axisLabelStyle = { color: '#000', fontSize: 21, fontFamily: FONT, formatter: function (v) { return String(v); } };

chart.setOption({
  backgroundColor: '#ffffff',
  animation: false,
  grid: GRID,
  xAxis: {
    type: 'value', min: 0, max: 18000, interval: 2000,
    axisLine: { show: true, onZero: false, lineStyle: { color: '#000', width: 1.5 } },
    axisTick: { show: true, length: 6, lineStyle: { color: '#000', width: 1.2 } },
    minorTick: { show: true, splitNumber: 2, length: 6, lineStyle: { color: '#000', width: 1.2 } },
    axisLabel: Object.assign({ margin: 12 }, axisLabelStyle),
    splitLine: { show: true, lineStyle: { color: GRID_COLOR, width: 1.5 } },
    minorSplitLine: { show: true, lineStyle: { color: GRID_COLOR, width: 1.2, type: [5, 4] } }
  },
  yAxis: {
    type: 'value', min: 0, max: 300, interval: 50,
    axisLine: { show: true, onZero: false, lineStyle: { color: '#000', width: 1.5 } },
    axisTick: { show: true, length: 7, lineStyle: { color: '#000', width: 1.2 } },
    minorTick: { show: true, splitNumber: 5, length: 5, lineStyle: { color: '#555', width: 1 } },
    axisLabel: Object.assign({ margin: 12 }, axisLabelStyle),
    splitLine: { show: true, lineStyle: { color: GRID_COLOR, width: 1.5 } },
    minorSplitLine: { show: true, lineStyle: { color: GRID_COLOR, width: 1.2, type: [4, 3] } }
  },
  series: series,
  graphic: graphic
});
</script>
</body>
</html>
